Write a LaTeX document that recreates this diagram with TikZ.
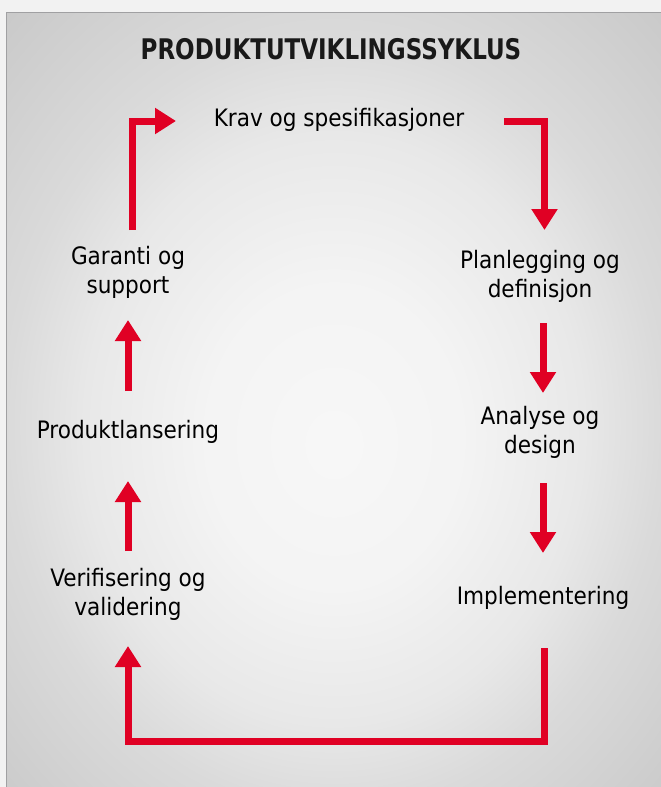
\documentclass[tikz,border=0pt]{standalone}
\usepackage{fontspec}
\setmainfont{DejaVu Sans Condensed}
\usetikzlibrary{arrows.meta}
\definecolor{arrred}{RGB}{224,0,36}
\definecolor{framegray}{RGB}{160,160,162}
\definecolor{pagegray}{RGB}{242,242,242}
\pgfdeclareradialshading{bgshade}{\pgfpoint{0bp}{-3bp}}{%
  color(0bp)=(white!94!gray);
  color(10bp)=(white!91!gray);
  color(19bp)=(white!82!gray);
  color(25bp)=(white!71!gray);
  color(36bp)=(white!58!gray);
  color(50bp)=(white!58!gray)}
\begin{document}
\begin{tikzpicture}[x=1pt,y=-1pt,
  lbl/.style={align=center,font=\fontsize{24}{29}\selectfont,inner sep=0pt,text=black},
  ttl/.style={font=\bfseries\fontsize{28.4}{32}\selectfont,inner sep=0pt,text=black!90,xscale=0.9},
  arr/.style={draw=arrred,line width=7pt,line join=miter,
    -{Triangle[length=21pt,width=25pt]}}]
\fill[pagegray] (0,0) rectangle (661,787);
\useasboundingbox (0,0) rectangle (661,787);
\shade[shading=bgshade] (6,12) rectangle (662,788);
\draw[framegray,line width=1pt] (662,12.5) -- (6.5,12.5) -- (6.5,788);
% texts
\node[ttl,anchor=base] (title) at (331,59) {PRODUKTUTVIKLINGSSYKLUS};
\node[lbl] (krav) at (339,120) {Krav og spesifikasjoner};
\node[lbl] (plan) at (540,276) {Planlegging og\\definisjon};
\node[lbl] (analyse) at (540,432) {Analyse og\\design};
\node[lbl] (impl) at (543,598) {Implementering};
\node[lbl] (verif) at (128,594) {Verifisering og\\validering};
\node[lbl] (prod) at (128,432) {Produktlansering};
\node[lbl] (garanti) at (128,272) {Garanti og\\support};
% connector end points
\coordinate (k2) at (504,121);
\coordinate (p1) at (544.5,230);
\coordinate (p2) at (543,323);
\coordinate (a1) at (543,393);
\coordinate (a2) at (543,483);
\coordinate (i1) at (543,553);
\coordinate (i2) at (544.5,648);
\coordinate (v1) at (128,646);
\coordinate (v2) at (128,551);
\coordinate (r1) at (128,481);
\coordinate (r2) at (128,391);
\coordinate (g1) at (128,320);
\coordinate (g2) at (132,230);
\coordinate (k1) at (176,121);
% connectors
\draw[arr] (k2) -| (p1);
\draw[arr] (p2) -- (a1);
\draw[arr] (a2) -- (i1);
\draw[arr] (i2) -- (544.5,741) -| (v1);
\draw[arr] (v2) -- (r1);
\draw[arr] (r2) -- (g1);
\draw[arr] (g2) |- (k1);
\end{tikzpicture}
\end{document}
